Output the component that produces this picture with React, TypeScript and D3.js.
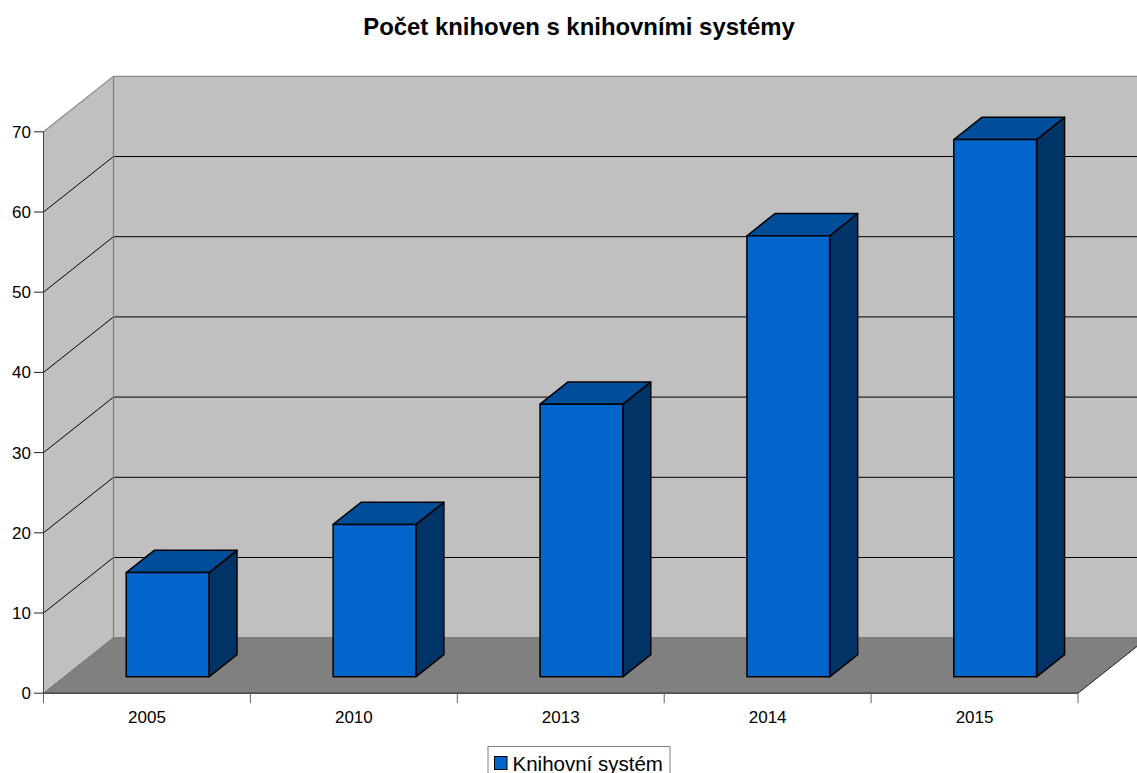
import React from "react";
import * as d3 from "d3";

const categories = ["2005", "2010", "2013", "2014", "2015"];
const values = [13, 19, 34, 55, 67];
const yTicks = [0, 10, 20, 30, 40, 50, 60, 70];
const title = "Počet knihoven s knihovními systémy";
const seriesName = "Knihovní systém";

const W = 1137, H = 773;
const x0 = 43.5, x1 = 1078, y0 = 693.2, y70 = 131.8;
const dx = 70, dy = -55.5;
const topY = 76.3;
const font = "'Liberation Sans', Arial, sans-serif";

const y = d3.scaleLinear().domain([0, 70]).range([y0, y70]);
const band = d3.scaleBand<string>().domain(categories).range([x0, x1]).paddingInner(0).paddingOuter(0);
const depthStart = 0.295;
const depthSize = 0.4;
const barW = band.bandwidth() * 0.4;

const poly = (pts: [number, number][]) => pts.map((p) => p.join(",")).join(" ");

export default function App() {
  const line = d3.line();
  return (
    <svg width={W} height={H} viewBox={`0 0 ${W} ${H}`} style={{ position: "fixed", left: 0, top: 0, display: "block", background: "#fff" }}>
      <text x={579} y={35} textAnchor="middle" fontFamily={font} fontWeight="bold" fontSize={23.9} fill="#000">{title}</text>

      {/* side wall */}
      <polygon points={poly([[x0, y0], [x0 + dx, y0 + dy], [x0 + dx, topY], [x0, y70]])} fill="#c0c0c0" />
      {/* back wall */}
      <rect x={x0 + dx} y={topY} width={W - x0 - dx} height={y0 + dy - topY} fill="#c0c0c0" />
      {/* floor */}
      <polygon points={poly([[x0, y0], [x0 + dx, y0 + dy], [x1 + dx, y0 + dy], [x1, y0]])} fill="#808080" />

      {/* gridlines */}
      {yTicks.slice(1, -1).map((t) => (
        <path key={t} d={line([[x0, y(t)], [x0 + dx, y(t) + dy], [W, y(t) + dy]]) ?? ""} fill="none" stroke="#000" strokeWidth={1} />
      ))}

      {/* wall edges */}
      <path d={line([[x0, y70], [x0 + dx, topY], [W, topY]]) ?? ""} fill="none" stroke="#8a8a8a" strokeWidth={1.2} />
      <path d={line([[x0 + dx, topY], [x0 + dx, y0 + dy]]) ?? ""} fill="none" stroke="#808080" strokeWidth={1.2} />
      <path d={line([[x0, y0], [x0 + dx, y0 + dy], [W, y0 + dy]]) ?? ""} fill="none" stroke="#6e6e6e" strokeWidth={1} />
      <path d={line([[x1, y0], [x1 + dx, y0 + dy]]) ?? ""} fill="none" stroke="#222" strokeWidth={1} />

      {/* bars */}
      {categories.map((c, i) => {
        const xL = (band(c) as number) + band.bandwidth() / 2 - barW / 2 + dx * depthStart;
        const xR = xL + barW;
        const yB = y0 + dy * depthStart;
        const yT = y(values[i]) + dy * depthStart;
        const ox = dx * depthSize, oy = dy * depthSize;
        return (
          <g key={c} stroke="#000" strokeWidth={1.5} strokeLinejoin="round">
            <polygon points={poly([[xR, yB], [xR + ox, yB + oy], [xR + ox, yT + oy], [xR, yT]])} fill="#003366" />
            <polygon points={poly([[xL, yT], [xL + ox, yT + oy], [xR + ox, yT + oy], [xR, yT]])} fill="#004d99" />
            <rect x={xL} y={yT} width={barW} height={yB - yT} fill="#0066cc" />
          </g>
        );
      })}

      {/* y axis */}
      <line x1={x0} x2={x0} y1={y70} y2={y0} stroke="#444" strokeWidth={1} />
      {yTicks.map((t) => (
        <g key={t}>
          <line x1={x0 - 9.5} x2={x0} y1={y(t)} y2={y(t)} stroke="#222" strokeWidth={1} />
          <text x={31} y={y(t) + 6} textAnchor="end" fontFamily={font} fontSize={17} fill="#000">{t}</text>
        </g>
      ))}

      {/* x axis */}
      <line x1={x0} x2={x1} y1={y0} y2={y0} stroke="#111" strokeWidth={1} />
      {d3.range(categories.length + 1).map((i) => {
        const xx = x0 + i * band.step();
        return <line key={i} x1={xx} x2={xx} y1={y0} y2={y0 + 10} stroke="#666" strokeWidth={1} />;
      })}
      {categories.map((c) => (
        <text key={c} x={(band(c) as number) + band.bandwidth() / 2} y={723.3} textAnchor="middle" fontFamily={font} fontSize={17} fill="#000">{c}</text>
      ))}

      {/* legend */}
      <rect x={488} y={746.5} width={182} height={40} fill="#fff" stroke="#808080" strokeWidth={1} />
      <rect x={494.5} y={756.5} width={12.5} height={13} fill="#0066cc" stroke="#000" strokeWidth={1} />
      <text x={512.5} y={770.5} fontFamily={font} fontSize={20.5} fill="#000">{seriesName}</text>
    </svg>
  );
}
